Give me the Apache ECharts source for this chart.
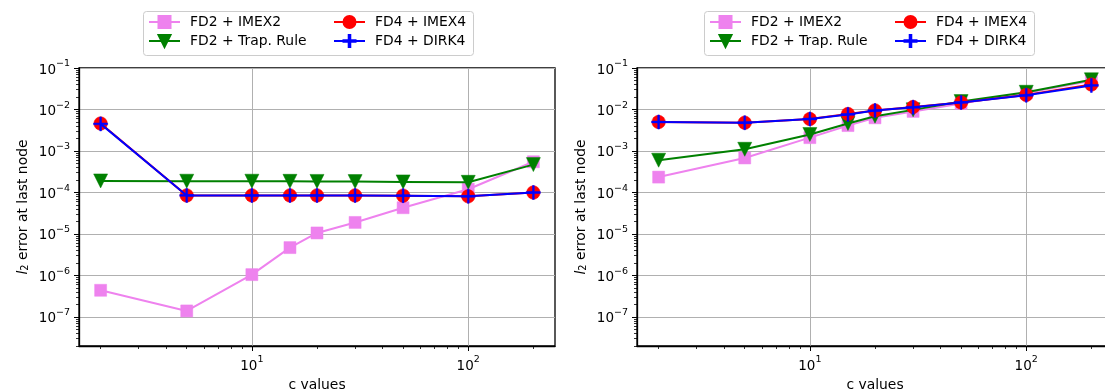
<!DOCTYPE html>
<html>
<head>
<meta charset="utf-8">
<script src="https://cdn.jsdelivr.net/npm/echarts@6/dist/echarts.min.js"></script>
<style>
  html, body { margin: 0; padding: 0; background: #ffffff; }
  #chart { width: 1105px; height: 392px; }
</style>
</head>
<body>
<div id="chart"></div>
<script>
// Wave speed values c on the horizontal axis
const cValues = [2, 5, 10, 15, 20, 30, 50, 100, 200];

const seriesNames = ['FD2 + IMEX2', 'FD2 + Trap. Rule', 'FD4 + IMEX4', 'FD4 + DIRK4'];

// Left panel: l2 error at the last node
const leftImex2 = [4.4e-7, 1.4e-7, 1.05e-6, 4.7e-6, 1.06e-5, 1.9e-5, 4.3e-5, 1.2e-4, 5.5e-4];
const leftTrap  = [1.9e-4, 1.87e-4, 1.87e-4, 1.86e-4, 1.85e-4, 1.83e-4, 1.8e-4, 1.76e-4, 4.7e-4];
const leftImex4 = [4.6e-3, 8.5e-5, 8.5e-5, 8.5e-5, 8.5e-5, 8.5e-5, 8.4e-5, 8.1e-5, 1.0e-4];
const leftDirk4 = [4.5e-3, 8.5e-5, 8.5e-5, 8.5e-5, 8.5e-5, 8.5e-5, 8.4e-5, 8.1e-5, 1.0e-4];

// Right panel: l2 error at the last node
const rightImex2 = [2.35e-4, 6.8e-4, 2.1e-3, 4.1e-3, 6.3e-3, 9.0e-3, 1.4e-2, 2.5e-2, 4.9e-2];
const rightTrap  = [6.0e-4, 1.1e-3, 2.5e-3, 4.6e-3, 6.9e-3, 9.8e-3, 1.55e-2, 2.6e-2, 5.2e-2];
const rightImex4 = [5.0e-3, 4.8e-3, 5.9e-3, 7.8e-3, 9.5e-3, 1.15e-2, 1.48e-2, 2.25e-2, 4.0e-2];
const rightDirk4 = [5.0e-3, 4.8e-3, 5.9e-3, 7.6e-3, 9.4e-3, 1.13e-2, 1.48e-2, 2.2e-2, 3.8e-2];

// Axis ranges and tick positions
const xRange = [1.5888, 251.77];
const yRange = [2e-8, 1e-1];
const xMajorTicks = [10, 100];
const yMajorTicks = [1e-7, 1e-6, 1e-5, 1e-4, 1e-3, 1e-2, 1e-1];
const minorMantissas = [2, 3, 4, 5, 6, 7, 8, 9];
const xDecades = [1, 10, 100];
const yDecades = [1e-8, 1e-7, 1e-6, 1e-5, 1e-4, 1e-3, 1e-2];

function minorTicks(decades, range) {
  const out = [];
  decades.forEach(d => minorMantissas.forEach(m => {
    const v = +(m * d).toPrecision(6);
    if (v >= range[0] * 0.999 && v <= range[1] * 1.001) out.push(v);
  }));
  return out;
}
const xMinorTicks = minorTicks(xDecades, xRange);
const yMinorTicks = minorTicks(yDecades, yRange);

const FONT = 'DejaVu Sans';
const powRich = {
  b: { fontSize: 13.5, fontFamily: FONT, color: '#000', lineHeight: 18, verticalAlign: 'bottom' },
  s: { fontSize: 9.5, fontFamily: FONT, color: '#000', lineHeight: 12, verticalAlign: 'top' }
};
function powLabel(v) {
  const e = Math.round(Math.log10(v));
  return '{b|10}{s|' + (e < 0 ? '\u2212' : '') + Math.abs(e) + '}';
}

const panels = [
  { left: 79, data: [leftImex2, leftTrap, leftImex4, leftDirk4] },
  { left: 637, data: [rightImex2, rightTrap, rightImex4, rightDirk4] }
];
const GRID_TOP = 68, GRID_H = 278, GRID_W = 476;

const styles = [
  { color: '#ee82ee', symbol: 'rect', symbolSize: 12, z: 3 },
  { color: '#008000', symbol: 'triangle', symbolSize: 14, symbolRotate: 180, z: 4 },
  { color: '#ff0000', symbol: 'circle', symbolSize: 13.5, z: 5 },
  { color: '#0000ff', symbol: 'path://M0,4.35H10V5.65H0Z M4.35,0H5.65V10H4.35Z', symbolSize: 14, z: 6 }
];

const grids = [], xAxes = [], yAxes = [], series = [], legends = [], graphics = [];

panels.forEach((p, pi) => {
  grids.push({
    left: p.left, top: GRID_TOP, width: GRID_W, height: GRID_H,
    show: true, borderColor: '#000000', borderWidth: 1.3, backgroundColor: 'transparent',
    containLabel: false, outerBoundsMode: 'none'
  });
  // main x axis: decades, grid lines, labels
  xAxes.push({
    type: 'log', logBase: 10, gridIndex: pi, min: xRange[0], max: xRange[1], position: 'bottom',
    name: 'c values', nameLocation: 'middle', nameGap: 26,
    nameTextStyle: { fontSize: 13.9, fontFamily: FONT, color: '#000' },
    axisLine: { show: true, onZero: false, lineStyle: { color: '#000', width: 1.3 } },
    axisTick: { show: true, inside: false, length: 5, lineStyle: { color: '#000', width: 1 }, customValues: xMajorTicks },
    axisLabel: { show: true, margin: 9, customValues: xMajorTicks, formatter: powLabel, rich: powRich, color: '#000' },
    splitLine: { show: true, lineStyle: { color: '#b0b0b0', width: 1 } },
    minorTick: { show: false }, minorSplitLine: { show: false }
  });
  // second x axis carrying the minor ticks, shifted down onto the bottom edge
  xAxes.push({
    type: 'log', logBase: 10, gridIndex: pi, min: xRange[0], max: xRange[1],
    position: 'top', offset: -GRID_H,
    axisLine: { show: false },
    axisTick: { show: true, inside: true, length: 3, lineStyle: { color: '#000', width: 0.8 }, customValues: xMinorTicks },
    axisLabel: { show: false },
    splitLine: { show: false }
  });
  yAxes.push({
    type: 'log', logBase: 10, gridIndex: pi, min: yRange[0], max: yRange[1], position: 'left',
    name: '{it|l}{sub|2} error at last node', nameLocation: 'middle', nameGap: 49, nameRotate: 90,
    nameTextStyle: {
      fontSize: 13.9, fontFamily: FONT, color: '#000',
      rich: {
        it: { fontSize: 13.9, fontFamily: FONT, fontStyle: 'italic', color: '#000' },
        sub: { fontSize: 9.7, fontFamily: FONT, color: '#000', verticalAlign: 'bottom', lineHeight: 12 }
      }
    },
    axisLine: { show: true, onZero: false, lineStyle: { color: '#000', width: 1.3 } },
    axisTick: { show: true, inside: false, length: 5, lineStyle: { color: '#000', width: 1 }, customValues: yMajorTicks },
    axisLabel: { show: true, margin: 9, customValues: yMajorTicks, formatter: powLabel, rich: powRich, color: '#000' },
    splitLine: { show: true, lineStyle: { color: '#b0b0b0', width: 1 } },
    minorTick: { show: false }, minorSplitLine: { show: false }
  });
  // second y axis carrying the minor ticks, shifted left onto the left edge
  yAxes.push({
    type: 'log', logBase: 10, gridIndex: pi, min: yRange[0], max: yRange[1],
    position: 'right', offset: -GRID_W,
    axisLine: { show: false },
    axisTick: { show: true, inside: true, length: 3, lineStyle: { color: '#000', width: 0.8 }, customValues: yMinorTicks },
    axisLabel: { show: false },
    splitLine: { show: false }
  });

  p.data.forEach((vals, si) => {
    const st = styles[si];
    series.push({
      type: 'line', name: seriesNames[si],
      xAxisIndex: pi * 2, yAxisIndex: pi * 2,
      data: cValues.map((c, i) => [c, vals[i]]),
      symbol: st.symbol, symbolSize: st.symbolSize, symbolRotate: st.symbolRotate || 0,
      showSymbol: true, showAllSymbol: true, z: st.z, clip: false,
      lineStyle: { color: st.color, width: 2 },
      itemStyle: { color: st.color, borderColor: st.color, borderWidth: 0.5, opacity: 1 },
      emphasis: { disabled: true }, silent: true, animation: false
    });
  });

  // legend frame and two legend columns above each panel
  const boxX = pi === 0 ? 143 : 704;
  graphics.push({
    type: 'rect', z: 1, silent: true,
    shape: { x: boxX + 0.5, y: 11.5, width: 330, height: 44, r: 3 },
    style: { fill: 'rgba(255,255,255,0.8)', stroke: '#cccccc', lineWidth: 1 }
  });
  [[0, 1], [2, 3]].forEach((pair, col) => {
    legends.push({
      data: pair.map(k => seriesNames[k]),
      orient: 'vertical', left: boxX + 5 + col * 185, top: 15,
      itemWidth: 31, itemHeight: 15, itemGap: 5, z: 5,
      selectedMode: false,
      textStyle: { fontSize: 13.9, fontFamily: FONT, color: '#000', padding: [0, 0, 0, 5] },
      padding: 0
    });
  });
});

const chart = echarts.init(document.getElementById('chart'), null, { renderer: 'canvas' });
chart.setOption({
  animation: false,
  backgroundColor: '#ffffff',
  textStyle: { fontFamily: FONT },
  grid: grids,
  xAxis: xAxes,
  yAxis: yAxes,
  legend: legends,
  graphic: graphics,
  series: series
});
</script>
</body>
</html>
